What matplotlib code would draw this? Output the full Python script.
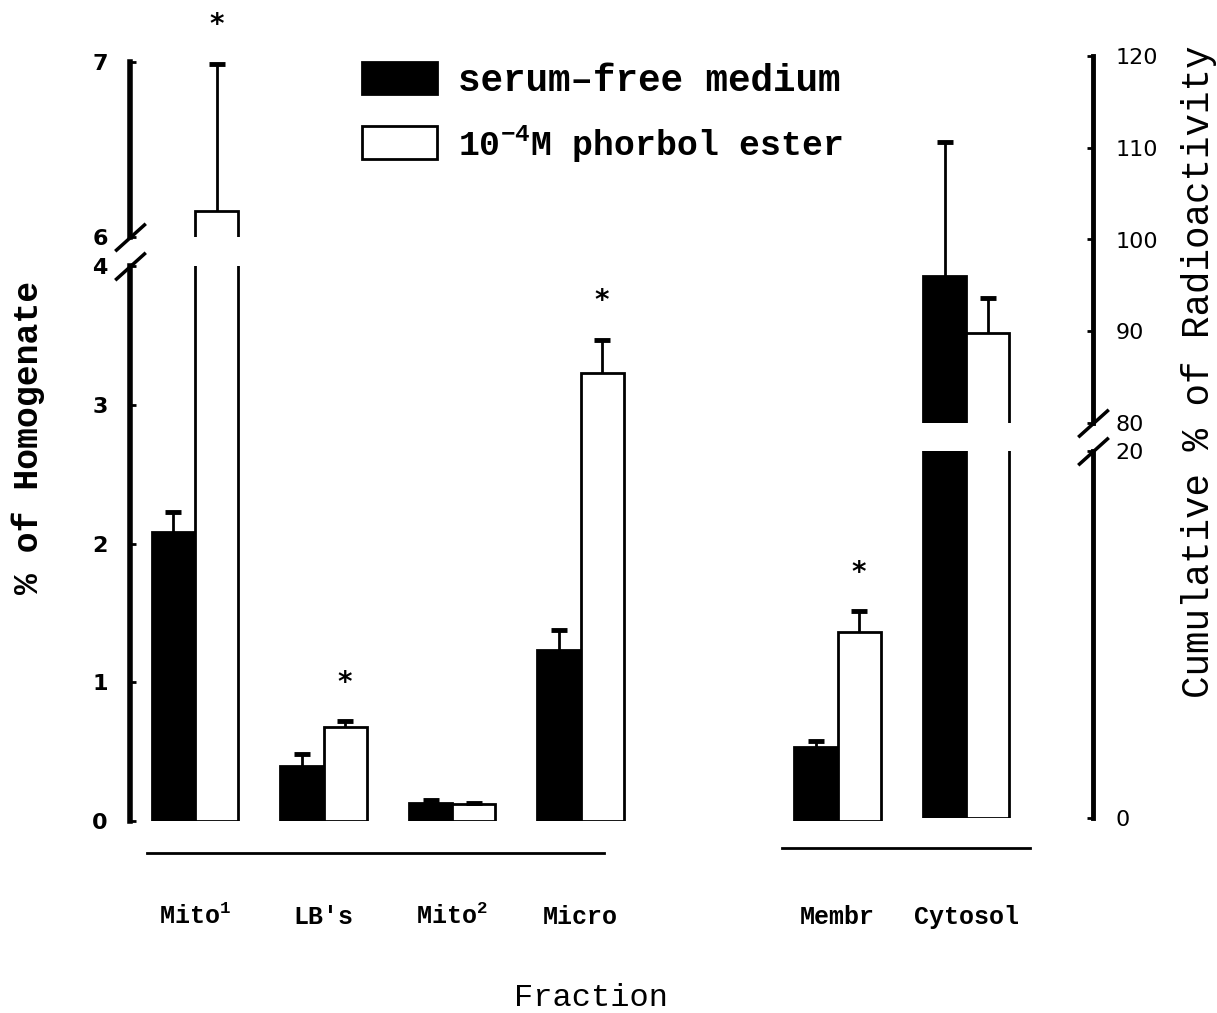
import matplotlib
matplotlib.use('Agg')
import matplotlib.pyplot as plt
from matplotlib.patches import Patch
import numpy as np

plt.rcParams['mathtext.fontset'] = 'custom'
plt.rcParams['mathtext.rm'] = 'Liberation Mono'
plt.rcParams['mathtext.bf'] = 'Liberation Mono:bold'

fractions = ['Mito$^{\\mathbf{1}}$', "LB's", 'Mito$^{\\mathbf{2}}$', 'Micro', 'Membr', 'Cytosol']

# % of homogenate (left axis): Mito1, LB's, Mito2, Micro, Membr
serum_pct = [2.08, 0.40, 0.13, 1.23, 0.53]
serum_pct_err = [0.15, 0.08, 0.02, 0.15, 0.05]
phorbol_pct = [6.15, 0.68, 0.12, 3.23, 1.36]
phorbol_pct_err = [0.84, 0.04, 0.01, 0.24, 0.15]

# cumulative % of radioactivity (right axis): Cytosol
serum_cyto = [96.0]
serum_cyto_err = [14.6]
phorbol_cyto = [89.8]
phorbol_cyto_err = [3.8]

significant = ['*', '*', '', '*', '*', '']

legend_labels = ['serum\u2013free medium', '10$^{\\mathbf{-4}}$M phorbol ester']

pos = np.array([0, 1, 2, 3, 5, 6])
w = 0.335
W, H = 1217, 1013

fig = plt.figure(figsize=(W / 100, H / 100), dpi=100)


def rect(ytop, ybot, x0=130, x1=1093):
    return [x0 / W, 1 - ybot / H, (x1 - x0) / W, (ybot - ytop) / H]


def make_ax(r, side, lw):
    ax = fig.add_axes(r)
    ax.patch.set_visible(False)
    for s in ['top', 'bottom', 'left', 'right']:
        ax.spines[s].set_visible(s == side)
    ax.spines[side].set_linewidth(lw)
    ax.set_xlim(-0.506, 6.988)
    ax.tick_params(axis='x', length=0, labelbottom=False)
    ax.yaxis.set_ticks_position(side)
    ax.tick_params(axis='y', direction='in', length=4, width=2, pad=16, labelsize=16)
    return ax


def up_err(ax, x, y, err):
    # one-sided error bars: a stem from the bar top and a cap at its end
    top = np.asarray(y) + np.asarray(err)
    ax.vlines(x, y, top, color='black', lw=2)
    ax.plot(x, top, ls='none', marker='_', ms=12, mew=3.5, color='black')


ax_lo = make_ax(rect(266, 821), 'left', 4)
ax_hi = make_ax(rect(62, 237), 'left', 4)
ax_rlo = make_ax(rect(451, 818), 'right', 3.5)
ax_rhi = make_ax(rect(56, 423), 'right', 3.5)

ax_lo.set_ylim(0, 4)
ax_lo.set_yticks([0, 1, 2, 3, 4])
ax_hi.set_ylim(6, 7)
ax_hi.set_yticks([6, 7])
ax_rlo.set_ylim(0, 20)
ax_rlo.set_yticks([0, 20])
ax_rhi.set_ylim(80, 120)
ax_rhi.set_yticks([80, 90, 100, 110, 120])

for ax in (ax_lo, ax_hi):
    for lab in ax.get_yticklabels():
        lab.set_fontweight('bold')

# left scale fractions, drawn on both pieces of the broken axis
lx = pos[:5]
for ax in (ax_lo, ax_hi):
    ax.bar(lx - w / 2, serum_pct, w, color='black', edgecolor='black', linewidth=2)
    ax.bar(lx + w / 2, phorbol_pct, w, color='white', edgecolor='black', linewidth=2)
    up_err(ax, lx - w / 2, serum_pct, serum_pct_err)
    up_err(ax, lx + w / 2, phorbol_pct, phorbol_pct_err)

# cytosol on the right scale
rx = pos[5:]
for ax in (ax_rlo, ax_rhi):
    ax.bar(rx - w / 2, serum_cyto, w, color='black', edgecolor='black', linewidth=2)
    ax.bar(rx + w / 2, phorbol_cyto, w, color='white', edgecolor='black', linewidth=2)
    up_err(ax, rx - w / 2, serum_cyto, serum_cyto_err)
    up_err(ax, rx + w / 2, phorbol_cyto, phorbol_cyto_err)

# significance stars above the phorbol bars
for i, s in enumerate(significant[:5]):
    if not s:
        continue
    top = phorbol_pct[i] + phorbol_pct_err[i]
    ax = ax_hi if top > 6 else ax_lo
    ax.annotate(s, xy=(lx[i] + w / 2, top), xytext=(0, 22), textcoords='offset points',
                ha='center', va='baseline', fontsize=20, fontweight='bold',
                annotation_clip=False)

# break marks on the axes
brk = dict(marker=[(-1, -0.9), (1, 0.9)], markersize=22, linestyle='none',
           color='black', mec='black', mew=2.5, clip_on=False)
ax_hi.plot([0], [0], transform=ax_hi.transAxes, **brk)
ax_lo.plot([0], [1], transform=ax_lo.transAxes, **brk)
ax_rhi.plot([1], [0], transform=ax_rhi.transAxes, **brk)
ax_rlo.plot([1], [1], transform=ax_rlo.transAxes, **brk)

# baseline under each group of fractions
tr = ax_lo.get_xaxis_transform()
ax_lo.plot([-0.37, 3.18], [-0.058, -0.058], transform=tr, color='black', lw=2, clip_on=False)
ax_lo.plot([4.57, 6.5], [-0.049, -0.049], transform=tr, color='black', lw=2, clip_on=False)

ax_lo.set_xticks(pos)
ax_lo.set_xticklabels(fractions, fontfamily='Liberation Mono', fontweight='bold', fontsize=18)
ax_lo.tick_params(axis='x', labelbottom=True, length=0, pad=74)
for lab in ax_lo.get_xticklabels():
    lab.set_va('baseline')

fig.text(28 / W, 1 - 437 / H, '% of Homogenate', rotation=90, ha='center', va='center',
         family='Liberation Mono', weight='bold', size=25)
fig.text(1199 / W, 1 - 372 / H, 'Cumulative % of Radioactivity', rotation=90, ha='center',
         va='center', family='Liberation Mono', size=27)
fig.text(591 / W, 1 - 998 / H, 'Fraction', ha='center', va='center',
         family='Liberation Mono', size=23)

handles = [Patch(facecolor='black', edgecolor='black', linewidth=2),
           Patch(facecolor='white', edgecolor='black', linewidth=2)]
leg = fig.legend(handles, legend_labels, loc='upper left', bbox_to_anchor=(362 / W, 1 - 62 / H),
                 frameon=False, prop={'family': 'Liberation Mono', 'weight': 'bold', 'size': 27},
                 handlelength=2.0, handleheight=0.95, handletextpad=0.55, labelspacing=0.65,
                 borderpad=0, borderaxespad=0)
leg.get_texts()[1].set_fontsize(25)

fig.savefig('out.png', dpi=100)
